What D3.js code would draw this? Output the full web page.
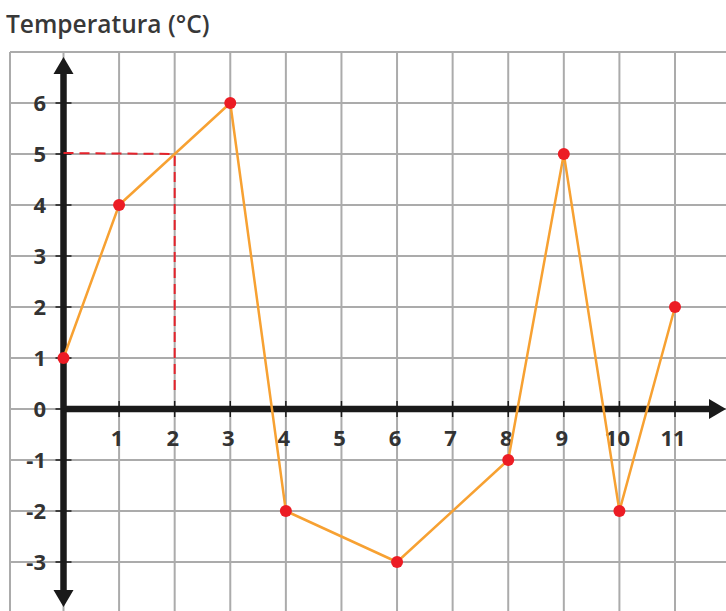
<!DOCTYPE html>
<html>
<head>
<meta charset="utf-8">
<script src="https://cdn.jsdelivr.net/npm/d3@7"></script>
<style>
  html, body { margin: 0; padding: 0; background: #fff; }
  svg { display: block; }
</style>
</head>
<body>
<svg id="chart" width="726" height="611"></svg>
<script>
// ---- data ----
const hours = [0, 1, 3, 4, 6, 8, 9, 10, 11];
const temps = [1, 4, 6, -2, -3, -1, 5, -2, 2];
const xTicks = [1, 2, 3, 4, 5, 6, 7, 8, 9, 10, 11];
const yTicks = [-3, -2, -1, 0, 1, 2, 3, 4, 5, 6];
const gridX = [0, 1, 2, 3, 4, 5, 6, 7, 8, 9, 10, 11];
const gridY = [-3, -2, -1, 0, 1, 2, 3, 4, 5, 6, 7];
const guidePoint = { x: 2, y: 5 };
const titleText = "Temperatura (°C)";

// ---- scales ----
const x = d3.scaleLinear().domain([0, 11]).range([63.5, 675]);
const y = d3.scaleLinear().domain([7, -3]).range([52, 562]);

const svg = d3.select("#chart");
const W = 726, H = 611;
const gridLeft = 10, gridTop = y(7);

// ---- grid ----
const grid = svg.append("g").attr("stroke", "#ababab").attr("stroke-width", 2);
grid.selectAll("line.v").data(gridX).join("line")
  .attr("x1", d => x(d)).attr("x2", d => x(d))
  .attr("y1", gridTop).attr("y2", H);
grid.append("line").attr("x1", gridLeft).attr("x2", gridLeft).attr("y1", gridTop).attr("y2", H);
grid.selectAll("line.h").data(gridY).join("line")
  .attr("x1", gridLeft).attr("x2", W)
  .attr("y1", d => y(d)).attr("y2", d => y(d));

// ---- axes ----
const axisCol = "#1a1a1a";
const ax = svg.append("g");
// y axis
ax.append("line").attr("x1", x(0)).attr("x2", x(0))
  .attr("y1", y(7) + 16).attr("y2", H - 16)
  .attr("stroke", axisCol).attr("stroke-width", 6.5);
// y arrowheads
ax.append("path").attr("fill", axisCol)
  .attr("d", `M${x(0)},${y(7) + 5} L${x(0) - 10},${y(7) + 22} L${x(0) + 10},${y(7) + 22} Z`);
ax.append("path").attr("fill", axisCol)
  .attr("d", `M${x(0)},${H - 4} L${x(0) - 10},${H - 21} L${x(0) + 10},${H - 21} Z`);
// x axis
ax.append("line").attr("x1", x(0)).attr("x2", W - 12)
  .attr("y1", y(0)).attr("y2", y(0))
  .attr("stroke", axisCol).attr("stroke-width", 6.5);
ax.append("path").attr("fill", axisCol)
  .attr("d", `M${W},${y(0)} L${W - 17},${y(0) - 10} L${W - 17},${y(0) + 10} Z`);
// y ticks
ax.selectAll("line.yt").data(yTicks).join("line")
  .attr("x1", x(0) - 8).attr("x2", x(0) + 8)
  .attr("y1", d => y(d)).attr("y2", d => y(d))
  .attr("stroke", axisCol).attr("stroke-width", 1.5);
// x ticks
ax.selectAll("line.xt").data(xTicks).join("line")
  .attr("x1", d => x(d)).attr("x2", d => x(d))
  .attr("y1", y(0) - 8).attr("y2", y(0) + 8)
  .attr("stroke", axisCol).attr("stroke-width", 1.5);

// ---- labels ----
const font = "'Open Sans', 'Noto Sans', sans-serif";
svg.append("g").selectAll("text").data(yTicks).join("text")
  .attr("x", 46).attr("y", d => y(d) + 8)
  .attr("text-anchor", "end")
  .attr("font-family", font).attr("font-size", 22).attr("font-weight", 700)
  .attr("fill", "#333")
  .text(d => String(d));
svg.append("g").selectAll("text").data(xTicks).join("text")
  .attr("x", d => x(d) - 2).attr("y", y(0) + 37)
  .attr("text-anchor", "middle")
  .attr("font-family", font).attr("font-size", 22).attr("font-weight", 700)
  .attr("fill", "#333")
  .text(d => String(d));

svg.append("text").attr("x", 6).attr("y", 33)
  .attr("font-family", font).attr("font-size", 24.5).attr("font-weight", 600)
  .attr("fill", "#383838")
  .text(titleText);

// ---- red dashed guides ----
const guide = svg.append("g").attr("fill", "none").attr("stroke", "#e5222b")
  .attr("stroke-width", 2).attr("stroke-dasharray", "10,6");
guide.append("line").attr("x1", x(0)).attr("x2", x(guidePoint.x))
  .attr("y1", y(guidePoint.y) - 1).attr("y2", y(guidePoint.y));
guide.append("line").attr("x1", x(guidePoint.x)).attr("x2", x(guidePoint.x))
  .attr("y1", y(guidePoint.y) + 2).attr("y2", y(0) - 14);

// ---- line & points ----
const pts = hours.map((h, i) => [h, temps[i]]);
svg.append("path").datum(pts)
  .attr("fill", "none").attr("stroke", "#f7a132").attr("stroke-width", 2.5)
  .attr("stroke-linejoin", "round")
  .attr("d", d3.line().x(d => x(d[0])).y(d => y(d[1])));
svg.append("g").selectAll("circle").data(pts).join("circle")
  .attr("cx", d => x(d[0])).attr("cy", d => y(d[1])).attr("r", 6)
  .attr("fill", "#ec1c24");
</script>
</body>
</html>
